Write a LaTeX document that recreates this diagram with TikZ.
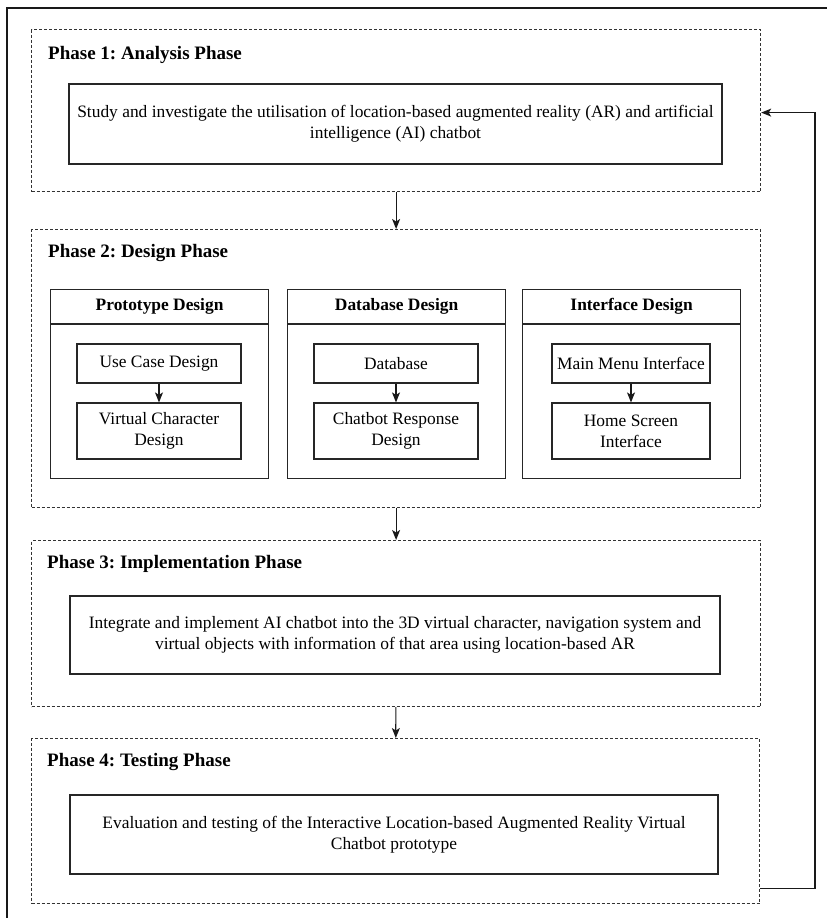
\documentclass[tikz,border=0pt]{standalone}
\usepackage{fontspec}
\setmainfont{Liberation Serif}
\usetikzlibrary{arrows.meta}
\frenchspacing
\tikzset{
  box/.style={draw=black!85, line width=1.2pt, inner sep=0pt, align=center,
    font=\fontsize{17.4}{21}\selectfont},
  phasebox/.style={draw=black!80, line width=1.2pt, dash pattern=on 3pt off 2pt,
    inner sep=0pt, anchor=north west},
  title/.style={anchor=west, inner sep=0pt, font=\fontsize{19}{23}\selectfont\bfseries},
  arr/.style={-{Stealth[length=10pt,width=8pt,inset=2.5pt]}, line width=1.2pt, draw=black!90}
}
% one design panel: name, left x, title, upper text, lower text, inner width
\newcommand{\drawpanel}[6]{
  \node[box, anchor=north west, minimum width=218pt, minimum height=189pt] (#1) at (#2,289) {};
  \draw[black!85, line width=1.2pt] ([yshift=-35pt]#1.north west) -- ([yshift=-35pt]#1.north east);
  \node[font=\fontsize{17.4}{21}\selectfont\bfseries] (#1t) at ([yshift=-17.5pt]#1.north) {#3};
  \node[box, minimum width=#6pt, minimum height=39pt] (#1a) at (#2+109,363.5) {#4};
  \node[box, minimum width=#6pt, minimum height=56pt] (#1b) at (#2+109,431) {#5};
  \draw[arr] (#1a) -- (#1b);
}

\begin{document}
\begin{tikzpicture}[x=1pt,y=-1pt]
  \useasboundingbox (0,0) rectangle (827,918);
  \draw[black!90, line width=1.2pt] (7,918) -- (7,8) -- (827,8);

  % phases
  \node[phasebox, minimum width=729pt, minimum height=162pt] (p1) at (31,29) {};
  \node[phasebox, minimum width=729pt, minimum height=278pt] (p2) at (31,229) {};
  \node[phasebox, minimum width=729pt, minimum height=166pt] (p3) at (31,540) {};
  \node[phasebox, minimum width=728pt, minimum height=165pt] (p4) at (31,738) {};

  \node[title] (t1) at (48,55) {Phase 1: Analysis Phase};
  \node[title] (t2) at (48,253) {Phase 2: Design Phase};
  \node[title] (t3) at (47,564) {Phase 3: Implementation Phase};
  \node[title] (t4) at (47,762) {Phase 4: Testing Phase};

  \node[box, minimum width=653pt, minimum height=80pt] (a1) at (395.5,124)
    {Study and investigate the utilisation of location-based augmented reality (AR) and artificial\\ intelligence (AI) chatbot};
  \node[box, minimum width=650pt, minimum height=78pt] (a3) at (395,635)
    {Integrate and implement AI chatbot into the 3D virtual character, navigation system and\\ virtual objects with information of that area using location-based AR};
  \node[box, minimum width=648pt, minimum height=79pt] (a4) at (394,834.5)
    {Evaluation and testing of the Interactive Location-based Augmented Reality Virtual\\ Chatbot prototype};

  \drawpanel{proto}{50}{Prototype Design}{Use Case Design}{Virtual Character\\ Design}{164}
  \drawpanel{data}{287}{Database Design}{Database}{Chatbot Response\\ Design}{164}
  \drawpanel{ui}{522}{Interface Design}{Main Menu Interface}{Home Screen\\ Interface}{158}

  \draw[arr] (p1) -- (p2);
  \draw[arr] (p2) -- (p3);
  \draw[arr] (p3) -- (p4);

  % loop back
  \coordinate (loop) at (815,500);
  \draw[arr] ([yshift=-67.5pt]p4.east) -| (loop) |- ([yshift=-2pt]p1.east);
\end{tikzpicture}
\end{document}
